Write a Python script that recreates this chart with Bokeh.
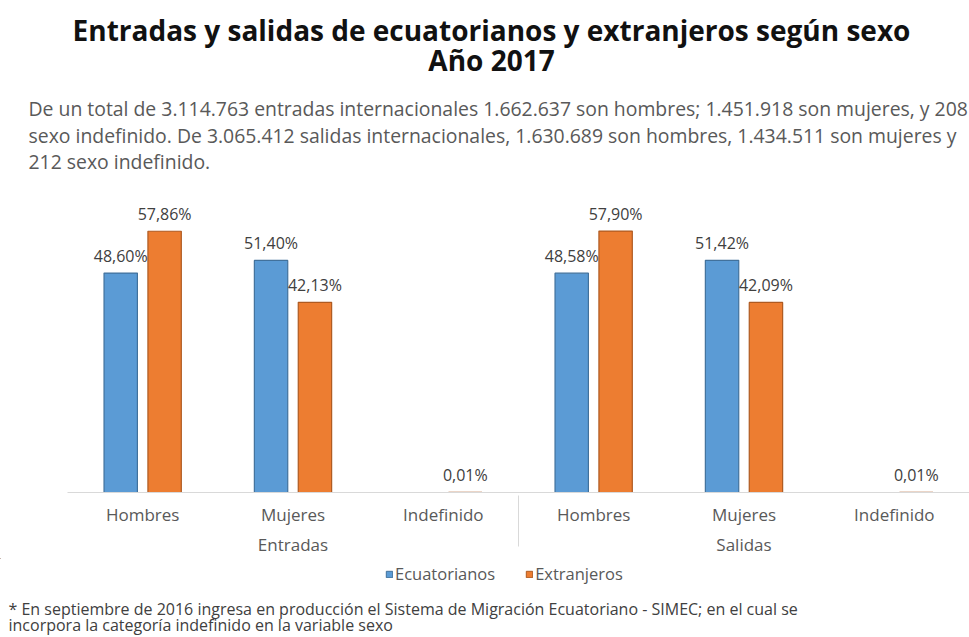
from bokeh.plotting import figure
from bokeh.layouts import column
from bokeh.models import FactorRange, Range1d, ColumnDataSource, Legend, LegendItem, Label
from bokeh.transform import dodge
from bokeh.core.properties import value
from bokeh.embed import file_html
from bokeh.resources import INLINE

# ---- data ----
groups = ["Entradas", "Salidas"]
sexes = ["Hombres", "Mujeres", "Indefinido"]
series_names = ["Ecuatorianos", "Extranjeros"]
ecuatorianos = [48.60, 51.40, 0.00, 48.58, 51.42, 0.00]
extranjeros = [57.86, 42.13, 0.01, 57.90, 42.09, 0.01]

title_lines = ["Entradas y salidas de ecuatorianos y extranjeros según sexo", "Año 2017"]
paragraph_lines = [
    "De un total de 3.114.763 entradas internacionales 1.662.637 son hombres; 1.451.918 son mujeres, y 208",
    "sexo indefinido. De 3.065.412 salidas internacionales, 1.630.689  son hombres, 1.434.511 son mujeres y",
    "212 sexo indefinido.",
]
footnote_lines = [
    "* En septiembre de 2016 ingresa en producción el Sistema de Migración Ecuatoriano - SIMEC; en el cual se",
    "incorpora la categoría indefinido en la variable sexo",
]

factors = [(g, s) for g in groups for s in sexes]


def fmt(v):
    return ("%.2f" % v).replace(".", ",") + "%" if v > 0 else ""


src = ColumnDataSource(dict(
    x=factors,
    ecu=ecuatorianos,
    ext=extranjeros,
    ecu_lbl=[fmt(v) for v in ecuatorianos],
    ext_lbl=[fmt(v) for v in extranjeros],
))

FONT = "Open Sans"
W = 969
HEAD_H = 190          # header band (title + paragraph)
BASE = 494            # page y of the category axis
AX_H = 64             # room for the category axis
FOOT_TOP = BASE + AX_H
FOOT_H = 637 - FOOT_TOP
ML = 67
PX_PER_UNIT = 4.545

BLUE, BLUE_E = "#5B9BD5", "#41719C"
ORANGE, ORANGE_E = "#ED7D31", "#AE5A21"
TEXT_GREY = "#595959"


def blank(height, y0, y1):
    f = figure(width=W, height=height, x_range=Range1d(0, W), y_range=Range1d(y1, y0),
               x_axis_type=None, y_axis_type=None, output_backend="svg", toolbar_location=None,
               min_border=0, min_border_left=0, min_border_right=0, min_border_top=0, min_border_bottom=0,
               frame_align=False)
    f.xgrid.visible = False
    f.ygrid.visible = False
    f.outline_line_color = None
    return f


# ---- header: title and paragraph (page coordinates) ----
head = blank(HEAD_H, 0, HEAD_H)
for i, t in enumerate(title_lines):
    head.add_layout(Label(x=491, y=29 + 30 * i, text=t, text_align="center", text_baseline="middle",
                          text_font=FONT, text_font_size="28px", text_font_style="bold",
                          text_color="#111111"))
for i, t in enumerate(paragraph_lines):
    head.add_layout(Label(x=28, y=[108, 135, 161][i], text=t, text_align="left", text_baseline="middle",
                          text_font=FONT, text_font_size="19.4px", text_color=TEXT_GREY))

# ---- chart ----
p = figure(
    x_range=FactorRange(*factors, range_padding=0, group_padding=0, factor_padding=0),
    y_range=Range1d(0, (BASE - HEAD_H) / PX_PER_UNIT),
    width=W, height=BASE - HEAD_H + AX_H, y_axis_type=None,
    output_backend="svg", toolbar_location=None, frame_align=False,
    min_border_left=ML, min_border_right=0, min_border_top=0, min_border_bottom=AX_H,
)

OFF, BW = 0.146, 0.222
p.vbar(x=dodge("x", -OFF, range=p.x_range), top="ecu", width=BW, source=src,
       fill_color=BLUE, line_color=BLUE_E, line_width=1.2)
p.vbar(x=dodge("x", OFF, range=p.x_range), top="ext", width=BW, source=src,
       fill_color=ORANGE, line_color=ORANGE_E, line_width=1.2)

for col, off in (("ecu_lbl", -OFF), ("ext_lbl", OFF)):
    p.text(x=dodge("x", off, range=p.x_range), y=col.replace("_lbl", ""), text=col, source=src,
           text_align="center", text_baseline="bottom", y_offset=-6,
           text_font=value(FONT), text_font_size="16px", text_color="#404040")

p.xgrid.visible = False
p.ygrid.visible = False
p.outline_line_color = None

ax = p.xaxis[0]
ax.axis_line_color = "#d9d9d9"
ax.major_tick_line_color = None
ax.minor_tick_line_color = None
ax.major_label_text_font = FONT
ax.major_label_text_font_size = "17px"
ax.major_label_text_color = TEXT_GREY
ax.major_label_standoff = 4
ax.group_text_font = FONT
ax.group_text_font_size = "17px"
ax.group_text_font_style = "normal"
ax.group_text_color = TEXT_GREY
ax.separator_line_color = "#d9d9d9"
ax.separator_line_width = 1

# ---- footer: legend and footnote (page coordinates) ----
foot = blank(FOOT_H, FOOT_TOP, 637)
# zero-size key glyphs that only provide the legend swatches
key = ColumnDataSource(dict(x=[-100.0], top=[0.0]))
k1 = foot.vbar(x="x", top="top", width=0, source=key, fill_color=BLUE, line_color=BLUE_E)
k2 = foot.vbar(x="x", top="top", width=0, source=key, fill_color=ORANGE, line_color=ORANGE_E)
legend = Legend(items=[LegendItem(label=series_names[0], renderers=[k1]),
                       LegendItem(label=series_names[1], renderers=[k2])],
                location=(385, FOOT_H - 27), orientation="horizontal",
                glyph_width=8, glyph_height=8, label_standoff=2, spacing=30,
                label_height=18, padding=0, margin=0, border_line_color=None, background_fill_alpha=0,
                label_text_font=FONT, label_text_font_size="16.5px", label_text_color=TEXT_GREY)
foot.add_layout(legend)
for i, t in enumerate(footnote_lines):
    foot.add_layout(Label(x=8, y=[608, 624][i], text=t, text_align="left", text_baseline="middle",
                          text_font=FONT, text_font_size="16px", text_color="#404040"))

layout = column(head, p, foot, spacing=0)
open("out.html", "w").write(file_html(layout, INLINE))
